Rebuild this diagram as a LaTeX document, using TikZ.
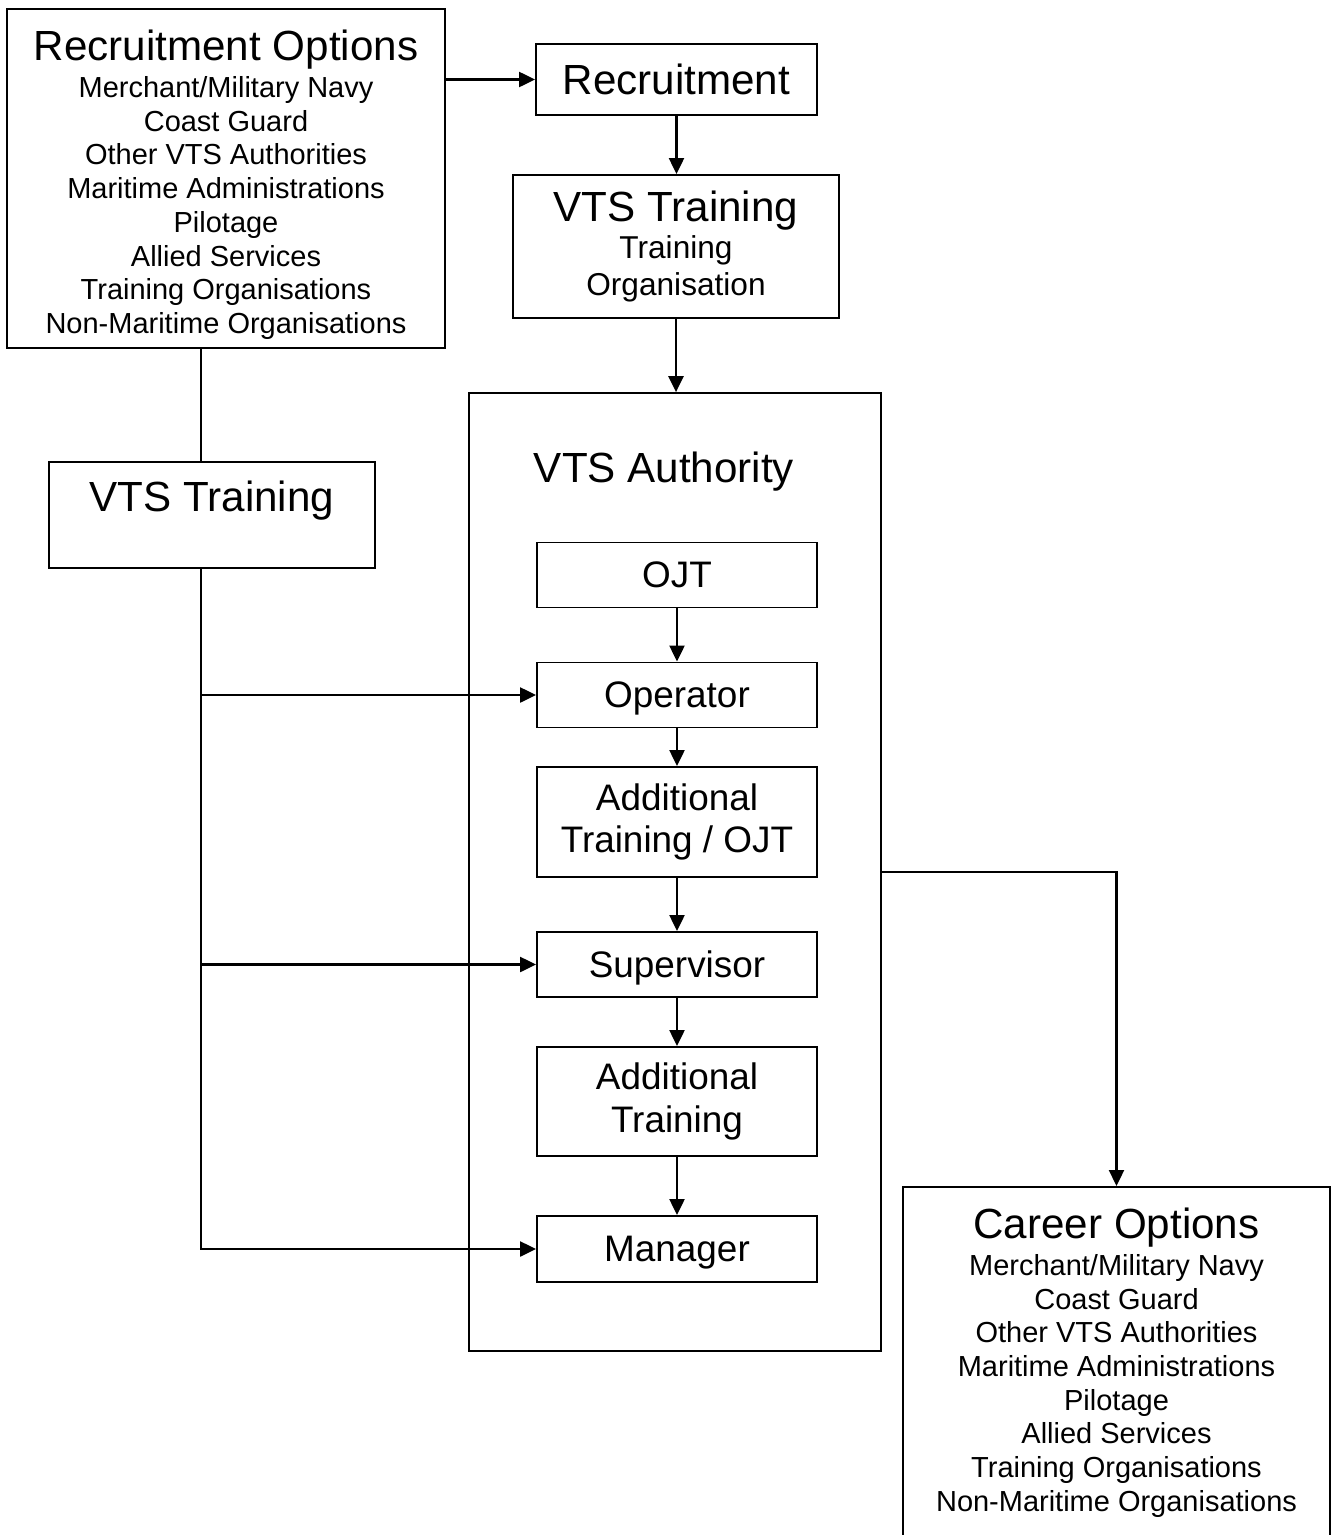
\documentclass[tikz,border=0pt]{standalone}
\usepackage{fontspec}
\setmainfont{Liberation Sans}
\usetikzlibrary{positioning,arrows.meta}

\begin{document}
\begin{tikzpicture}[x=0.02cm, y=-0.02cm,
    plainbox/.style={draw, line width=1.1pt, inner sep=0pt, align=center},
    stagebox/.style={plainbox, minimum width=5.6cm, font=\fontsize{21}{24}\selectfont},
    headfont/.style={font=\fontsize{24}{27.6}\selectfont},
    listtext/.style={inner sep=0pt, align=center, font=\fontsize{16.5}{19.2}\selectfont},
    link/.style={line width=1.3pt},
    arr/.style={link, -{Triangle[length=0.32cm, width=0.3cm]}}]

    \useasboundingbox (0,0) rectangle (1335,1535);
    \clip (0,0) rectangle (1335,1535);

    % Recruitment options and the way in
    \node[plainbox, minimum width=8.76cm, minimum height=6.78cm] (recopt) at (226,178.5) {};
    \node[listtext, below=0.44cm of recopt.north] (recopttxt) {{\fontsize{24}{27.6}\selectfont Recruitment Options}\\[1.5pt]
        Merchant/Military Navy\\ Coast Guard\\ Other VTS Authorities\\ Maritime Administrations\\
        Pilotage\\ Allied Services\\ Training Organisations\\ Non-Maritime Organisations};
    \node[plainbox, headfont, minimum width=5.62cm, minimum height=1.42cm] (recruit) at (676.5,79.5) {Recruitment};
    \node[plainbox, minimum width=6.52cm, minimum height=2.86cm, font=\fontsize{18}{21}\selectfont] (vtstrain) at (676,246.5)
        {{\fontsize{24}{27.6}\selectfont VTS Training}\\ Training\\ Organisation};

    % VTS authority and its stages
    \node[plainbox, minimum width=8.24cm, minimum height=19.16cm] (auth) at (675,872) {};
    \node[headfont, anchor=base] (authttl) at (664,482) {VTS Authority};
    \node[stagebox, minimum height=1.3cm] (ojt) at (677,575) {OJT};
    \node[stagebox, minimum height=1.3cm, text depth=0pt] (oper) at (677,695) {Operator};
    \node[stagebox, minimum height=2.2cm] (addojt) at (677,822) {Additional\\ Training / OJT};
    \node[stagebox, minimum height=1.3cm, text depth=0pt] (super) at (677,964.5) {Supervisor};
    \node[stagebox, minimum height=2.18cm] (addtr) at (677,1101.5) {Additional\\ Training};
    \node[stagebox, minimum height=1.32cm, text depth=0pt] (mgr) at (677,1249) {Manager};

    % Side entry through VTS training
    \node[plainbox, headfont, minimum width=6.52cm, minimum height=2.12cm, text depth=0.74cm] (vtsleft) at (212,515) {VTS Training};
    \coordinate (trunk) at (201,0);

    % Career options
    \node[plainbox, anchor=north, minimum width=8.54cm, minimum height=8cm] (caropt) at (1116.5,1186) {};
    \node[listtext, below=0.44cm of caropt.north] (caropttxt) {{\fontsize{24}{27.6}\selectfont Career Options}\\[1.5pt]
        Merchant/Military Navy\\ Coast Guard\\ Other VTS Authorities\\ Maritime Administrations\\
        Pilotage\\ Allied Services\\ Training Organisations\\ Non-Maritime Organisations};

    % Main line
    \draw[arr] (recopt.east |- recruit.west) -- (recruit.west);
    \draw[arr] (recruit.south) -- (recruit.south |- vtstrain.north);
    \draw[arr] (vtstrain.south) -- (vtstrain.south |- auth.north);
    \draw[arr] (ojt) -- (oper);
    \draw[arr] (oper) -- (addojt);
    \draw[arr] (addojt) -- (super);
    \draw[arr] (super) -- (addtr);
    \draw[arr] (addtr) -- (mgr);

    % Side entry lines
    \draw[link] (recopt.south -| trunk) -- (vtsleft.north -| trunk);
    \draw[arr] (vtsleft.south -| trunk) -- (trunk |- mgr.west) -- (mgr.west);
    \draw[arr] (trunk |- oper.west) -- (oper.west);
    \draw[arr] (trunk |- super.west) -- (super.west);

    % Way out
    \draw[arr] (auth.east) -| (caropt.north);
\end{tikzpicture}
\end{document}
